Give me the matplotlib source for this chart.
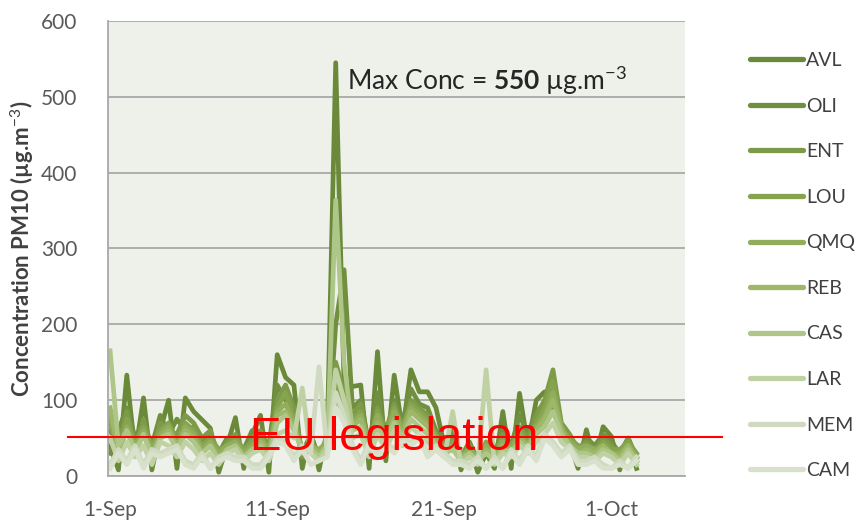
import numpy as np
import pandas as pd
import matplotlib.pyplot as plt
from matplotlib.lines import Line2D

plt.rcParams['font.family'] = ['Lato', 'DejaVu Sans']
plt.rcParams['mathtext.fontset'] = 'custom'
plt.rcParams['mathtext.rm'] = 'Lato'
plt.rcParams['mathtext.bf'] = 'Lato:bold'

# =========================
# Data (12-hourly PM10, ug/m3, from 1-Sep)
# =========================
times = pd.date_range('2013-09-01', periods=64, freq='12h')

stations = ['AVL', 'OLI', 'ENT', 'LOU', 'QMQ', 'REB', 'CAS', 'LAR', 'MEM', 'CAM']

avl = [40, 8, 133, 30, 103, 8, 60, 100,
       10, 103, 85, 74, 63, 5, 40, 77,
       10, 55, 80, 5, 160, 130, 120, 10,
       60, 8, 60, 545, 120, 118, 120, 10,
       164, 20, 133, 60, 140, 111, 111, 90,
       40, 60, 8, 40, 5, 30, 10, 85,
       10, 109, 40, 100, 111, 90, 60, 45,
       10, 61, 20, 65, 52, 8, 45, 10]
oli = [30, 60, 90, 50, 70, 40, 80, 55,
       75, 60, 65, 45, 55, 30, 50, 45,
       35, 60, 50, 40, 120, 100, 80, 30,
       55, 25, 40, 200, 272, 90, 100, 40,
       110, 50, 100, 70, 115, 95, 90, 60,
       45, 55, 25, 45, 20, 40, 30, 60,
       40, 80, 55, 85, 95, 100, 55, 50,
       30, 50, 40, 55, 45, 30, 50, 25]
ent = [60, 40, 85, 35, 75, 30, 70, 60,
       55, 80, 70, 50, 60, 25, 45, 55,
       30, 50, 60, 35, 100, 120, 90, 25,
       50, 20, 45, 150, 110, 80, 95, 35,
       90, 60, 95, 55, 100, 90, 80, 50,
       40, 50, 20, 40, 25, 35, 25, 55,
       35, 65, 50, 80, 100, 140, 70, 55,
       35, 45, 35, 50, 40, 25, 50, 20]
lou = [70, 35, 75, 45, 65, 40, 60, 70,
       45, 70, 60, 40, 50, 35, 40, 50,
       35, 45, 55, 30, 90, 110, 75, 35,
       45, 30, 50, 120, 100, 75, 85, 40,
       85, 55, 90, 65, 95, 85, 75, 55,
       35, 45, 30, 35, 20, 45, 30, 50,
       40, 60, 45, 70, 90, 125, 60, 50,
       40, 40, 30, 45, 35, 35, 45, 30]
qmq = [80, 30, 65, 40, 60, 35, 55, 65,
       40, 65, 55, 35, 45, 30, 40, 45,
       30, 40, 50, 35, 85, 95, 70, 30,
       40, 35, 45, 110, 90, 70, 80, 45,
       80, 50, 85, 60, 90, 80, 70, 50,
       35, 40, 25, 35, 25, 40, 25, 45,
       35, 55, 40, 65, 80, 110, 65, 45,
       35, 40, 35, 40, 30, 30, 40, 25]
reb = [90, 35, 60, 35, 55, 30, 50, 60,
       40, 60, 50, 30, 40, 25, 35, 40,
       25, 35, 45, 30, 80, 85, 65, 30,
       40, 30, 40, 100, 85, 65, 75, 40,
       70, 45, 75, 55, 85, 75, 65, 45,
       30, 35, 25, 30, 20, 35, 25, 40,
       30, 50, 40, 60, 75, 100, 60, 40,
       30, 35, 30, 40, 30, 25, 40, 20]
cas = [165, 40, 60, 30, 55, 25, 50, 55,
       35, 55, 45, 30, 40, 20, 35, 40,
       25, 35, 40, 25, 70, 80, 60, 35,
       35, 25, 40, 364, 150, 60, 65, 35,
       65, 45, 70, 50, 75, 65, 55, 40,
       30, 35, 20, 30, 20, 30, 20, 35,
       30, 45, 35, 55, 65, 85, 55, 40,
       30, 30, 25, 35, 30, 20, 35, 20]
lar = [50, 20, 45, 25, 40, 15, 45, 40,
       25, 45, 35, 20, 30, 15, 30, 35,
       20, 30, 35, 20, 55, 60, 50, 116,
       30, 20, 35, 140, 100, 50, 55, 25,
       55, 35, 60, 40, 65, 55, 45, 35,
       25, 85, 15, 25, 15, 140, 15, 30,
       25, 40, 30, 45, 55, 70, 45, 35,
       25, 25, 20, 30, 25, 15, 30, 15]
mem = [15, 35, 20, 40, 15, 35, 30, 35,
       40, 20, 15, 30, 10, 25, 30, 25,
       25, 15, 15, 30, 50, 45, 25, 40,
       30, 144, 30, 110, 80, 40, 20, 45,
       30, 45, 35, 50, 45, 55, 30, 40,
       30, 20, 20, 15, 25, 10, 25, 10,
       35, 20, 40, 25, 55, 45, 30, 40,
       20, 20, 25, 15, 10, 20, 10, 25]
cam = [10, 30, 15, 35, 10, 30, 25, 30,
       35, 15, 10, 25, 10, 20, 25, 20,
       20, 10, 10, 25, 45, 40, 20, 35,
       15, 20, 25, 90, 70, 35, 15, 40,
       25, 40, 30, 45, 40, 50, 25, 35,
       25, 15, 15, 10, 20, 10, 20, 10,
       30, 15, 35, 20, 50, 40, 25, 35,
       15, 15, 20, 10, 10, 15, 10, 20]

series = [avl, oli, ent, lou, qmq, reb, cas, lar, mem, cam]
colors = ['#6a8a3a', '#71903f', '#7c9a48', '#86a450', '#92ae5c', '#9db868',
          '#afc689', '#c0d2a4', '#cfdac0', '#d8e1cc']

tick_dates = pd.to_datetime(['2013-09-01', '2013-09-11', '2013-09-21', '2013-10-01'])
tick_labels = ['1-Sep', '11-Sep', '21-Sep', '1-Oct']

# =========================
# Figure
# =========================
fig = plt.figure(figsize=(8.67, 5.2), dpi=100)
ax = fig.add_axes([108/867, 44/520, 577/867, 455/520])
ax.set_facecolor('#eef1ea')

for name, vals, c in zip(stations, series, colors):
    ax.plot(times, vals, color=c, lw=3.4, label=name, solid_joinstyle='round')

ax.set_ylim(0, 600)
ax.set_xlim(pd.Timestamp('2013-09-01') - pd.Timedelta(hours=3),
            pd.Timestamp('2013-09-01') + pd.Timedelta(days=34.4))
ax.set_yticks(range(0, 601, 100))
ax.set_xticks(tick_dates)
ax.set_xticklabels(tick_labels)
ax.yaxis.grid(True, color='#a8a8a8', lw=1.3)
ax.set_axisbelow(True)
for s in ['top', 'right']:
    ax.spines[s].set_visible(False)
for s in ['left', 'bottom']:
    ax.spines[s].set_color('#a8a8a8')
    ax.spines[s].set_linewidth(1.3)
ax.tick_params(length=0, labelsize=15, labelcolor='#595959')
ax.tick_params(axis='x', pad=17)
ax.tick_params(axis='y', pad=22)

ax.set_ylabel('Concentration PM10 (µg.m$^{-3}$)', fontsize=16, fontweight='bold',
              color='#404040', labelpad=4)

ax.text(pd.Timestamp('2013-09-01') + pd.Timedelta(days=14.2), 509,
        'Max Conc = $\\mathbf{550}$ µg.m$^{-3}$', fontsize=19, color='#262626',
        va='baseline', ha='left')

fig.legend(loc='upper left', bbox_to_anchor=(750/867, 1 - 52/520), frameon=False,
           fontsize=14, labelcolor='#404040', handlelength=2.75, handletextpad=0.15,
           labelspacing=1.47, borderpad=0, borderaxespad=0)
for lh in fig.legends[0].get_lines():
    lh.set_linewidth(3.8)
    lh.set_solid_capstyle('round')

# EU limit overlay
fig.add_artist(Line2D([68/867, 722/867], [1 - 437/520] * 2, color='red', lw=1.5))
fig.text(394/867, 1 - 450/520, 'EU legislation', color='red', fontsize=34,
         family='Liberation Sans', ha='center', va='baseline')

fig.savefig('out.png', dpi=100)
